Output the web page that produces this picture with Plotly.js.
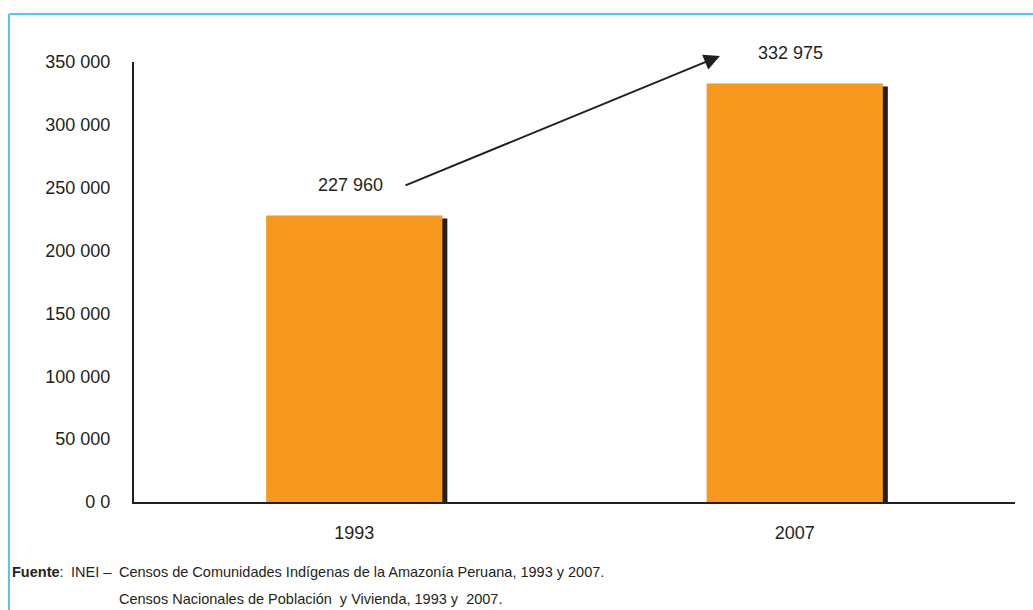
<!DOCTYPE html>
<html>
<head>
<meta charset="utf-8">
<script src="https://cdn.plot.ly/plotly-3.0.1.min.js"></script>
<style>
  html, body { margin: 0; padding: 0; background: #ffffff; }
  #chart { width: 1033px; height: 610px; }
</style>
</head>
<body>
<div id="chart"></div>
<script>
// ---- data ----
const categories = ["1993", "2007"];
const population = [227960, 332975];
const valueLabels = ["227 960", "332 975"];
const yTickVals = [0, 50000, 100000, 150000, 200000, 250000, 300000, 350000];
const yTickText = ["0 0", "50 000", "100 000", "150 000", "200 000", "250 000", "300 000", "350 000"];
const sourceLabel = "<b>Fuente</b>:";
const sourceOrg = "INEI –";
const sourceLines = [
  "Censos de Comunidades Indígenas de la Amazonía Peruana, 1993 y 2007.",
  "Censos Nacionales de Población  y Vivienda, 1993 y  2007."
];

// ---- styles ----
const FONT = "Liberation Sans, Arial, sans-serif";
const ORANGE = "#F7981F";
const DARK = "#231F20";
const BLUE = "#55C6EE";
const W = 1033, H = 610;
const M = { l: 134, r: 18, t: 62, b: 108 };
const plotW = W - M.l - M.r, plotH = H - M.t - M.b;
const yMax = 350000;
const px2x = px => (px - M.l) / plotW;       // pixel -> paper x
const px2y = py => (H - M.b - py) / plotH;   // pixel -> paper y
const shadowDx = 5 / (plotW / 2);            // category units
const shadowDrop = 3 / plotH * yMax;         // value units

const shadow = {
  type: "bar", x: categories, y: population,
  base: population.map(() => -shadowDrop),
  width: 0.4, offset: -0.2 + shadowDx,
  marker: { color: DARK }, hoverinfo: "skip", showlegend: false
};
const bars = {
  type: "bar", x: categories, y: population,
  width: 0.4, offset: -0.2,
  marker: { color: ORANGE }, showlegend: false
};

const annotations = categories.map((c, i) => ({
  x: i, y: population[i], xref: "x", yref: "y",
  text: valueLabels[i], showarrow: false,
  yanchor: "bottom", yshift: 18, xshift: -4,
  font: { family: FONT, size: 18, color: DARK }
}));

// growth arrow
annotations.push({
  xref: "paper", yref: "paper", x: px2x(720), y: px2y(56),
  axref: "pixel", ayref: "pixel",
  ax: -(720 - 404), ay: (186 - 56),
  showarrow: true, arrowhead: 2, arrowsize: 1.6, arrowwidth: 2,
  arrowcolor: DARK, standoff: 0, text: ""
});

// source notes
const noteFont = { family: FONT, size: 14.5, color: DARK };
annotations.push({
  xref: "paper", yref: "paper", x: px2x(10), y: px2y(572),
  xanchor: "left", yanchor: "middle", showarrow: false,
  text: sourceLabel, font: noteFont
});
annotations.push({
  xref: "paper", yref: "paper", x: px2x(69), y: px2y(572),
  xanchor: "left", yanchor: "middle", showarrow: false,
  text: sourceOrg, font: noteFont
});
sourceLines.forEach((t, i) => annotations.push({
  xref: "paper", yref: "paper", x: px2x(117), y: px2y(572 + 27 * i),
  xanchor: "left", yanchor: "middle", showarrow: false,
  text: t, font: noteFont
}));

const shapes = [
  { type: "line", xref: "paper", yref: "paper", x0: px2x(9), x1: px2x(1040), y0: px2y(14), y1: px2y(14),
    line: { color: BLUE, width: 2 } },
  { type: "line", xref: "paper", yref: "paper", x0: px2x(9), x1: px2x(9), y0: px2y(14), y1: px2y(620),
    line: { color: BLUE, width: 2 } }
];

const layout = {
  width: W, height: H, margin: M,
  paper_bgcolor: "#ffffff", plot_bgcolor: "#ffffff",
  barmode: "overlay", showlegend: false,
  font: { family: FONT, size: 18, color: DARK },
  xaxis: {
    type: "category", range: [-0.5, 1.5],
    showline: true, linecolor: DARK, linewidth: 2,
    showgrid: false, zeroline: false, ticks: "",
    ticklabelstandoff: 13,
    tickfont: { family: FONT, size: 18, color: DARK }
  },
  yaxis: {
    range: [0, yMax], tickvals: yTickVals, ticktext: yTickText,
    showline: true, linecolor: DARK, linewidth: 2,
    showgrid: false, zeroline: false, ticks: "",
    ticklabelstandoff: 18,
    tickfont: { family: FONT, size: 18, color: DARK }
  },
  annotations: annotations,
  shapes: shapes
};

Plotly.newPlot("chart", [shadow, bars], layout, { staticPlot: true, displayModeBar: false });
</script>
</body>
</html>
